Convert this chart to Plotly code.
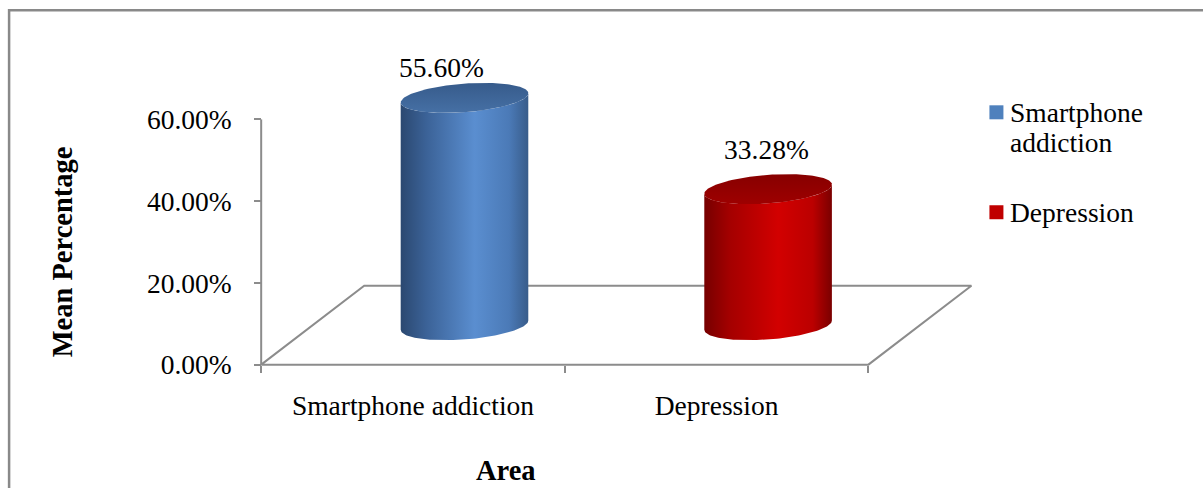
import textwrap
import numpy as np
import plotly.graph_objects as go

# ---------------- data ----------------
categories = ["Smartphone addiction", "Depression"]
mean_pct = [55.60, 33.28]
y_tick_vals = [0, 20, 40, 60]
x_title = "Area"
y_title = "Mean Percentage"

# ---------------- styles ----------------
FONT = "Liberation Serif, Times New Roman, serif"
FS = 27.5
FS_TITLE = 28.5
LINE_GRAY = "#8c8c8c"
BODY_SCALES = [
    [[0, "#2b4870"], [0.2, "#3b6297"], [0.58, "#5a8ed0"], [0.85, "#4b7ab7"], [1, "#385c8a"]],
    [[0, "#760000"], [0.2, "#a40000"], [0.58, "#d20000"], [0.85, "#bb0000"], [1, "#7a0000"]],
]
TOP_SCALES = [
    [[0, "#375b8b"], [1, "#4670a5"]],
    [[0, "#870000"], [1, "#9e0000"]],
]
SWATCH = ["#4f81bd", "#c00000"]
LABEL_XSHIFT = [-23, -2]
LABEL_YSHIFT = [30, 40]

# ---------------- geometry (pixel anchors of the projection) ----------------
W, H = 1203, 488
X0_PX, Y0_PX = 261, 364.5
PX_PER_X = 303.5
PX_PER_Y = 4.09
XR = [-0.05, 2.45]
YR = [-4, 76]
ML = X0_PX + XR[0] * PX_PER_X
MR = W - (X0_PX + XR[1] * PX_PER_X)
MT = Y0_PX - YR[1] * PX_PER_Y
MB = H - (Y0_PX - YR[0] * PX_PER_Y)
PW = W - ML - MR
PH = H - MT - MB

DEPTH_DX = 103 / PX_PER_X      # depth direction, x units
DEPTH_DY = 79 / PX_PER_Y       # depth direction, y units
RX = 0.20                      # cylinder radius along x
RZ = 0.19                      # cylinder radius along depth (fraction of floor depth)


def px_x(p):
    return (p - ML) / PW


def px_y(p):
    return (H - MB - p) / PH


def ellipse(cx, cy, th):
    return (cx + RX * np.cos(th) + DEPTH_DX * RZ * np.sin(th),
            cy + DEPTH_DY * RZ * np.sin(th))


fig = go.Figure()
n = len(categories)

# floor
fx = [0, n, n + DEPTH_DX, DEPTH_DX, 0]
fy = [0, 0, DEPTH_DY, DEPTH_DY, 0]
fig.add_trace(go.Scatter(x=fx, y=fy, mode="lines", line=dict(color=LINE_GRAY, width=2),
                         hoverinfo="skip", showlegend=False))
# value axis line
fig.add_trace(go.Scatter(x=[0, 0], y=[0, y_tick_vals[-1]], mode="lines",
                         line=dict(color=LINE_GRAY, width=2), hoverinfo="skip", showlegend=False))

th_star = np.arctan2(DEPTH_DX * RZ, RX)
front = np.linspace(th_star + np.pi, th_star + 2 * np.pi, 80)
full = np.linspace(0, 2 * np.pi, 160)

annotations = []
for i, (cat, v) in enumerate(zip(categories, mean_pct)):
    cx = i + 0.5 + 0.5 * DEPTH_DX
    cy0 = 0.5 * DEPTH_DY
    cy1 = v + 0.5 * DEPTH_DY
    bx, by = ellipse(cx, cy0, front)
    tx, ty = ellipse(cx, cy1, front[::-1])
    xs = np.concatenate([bx, tx, bx[:1]])
    ys = np.concatenate([by, ty, by[:1]])
    fig.add_trace(go.Scatter(
        x=xs, y=ys, mode="lines", fill="toself", line=dict(width=0, color="rgba(0,0,0,0)"),
        fillgradient=dict(type="horizontal", colorscale=BODY_SCALES[i],
                          start=float(xs.min()), stop=float(xs.max())),
        hoverinfo="skip", showlegend=False, name=cat))
    ex, ey = ellipse(cx, cy1, full)
    fig.add_trace(go.Scatter(
        x=ex, y=ey, mode="lines", fill="toself", line=dict(width=0, color="rgba(0,0,0,0)"),
        fillgradient=dict(type="vertical", colorscale=TOP_SCALES[i],
                          start=float(ey.max()), stop=float(ey.min())),
        hoverinfo="skip", showlegend=False))
    annotations.append(dict(x=cx, y=cy1, xref="x", yref="y", text=f"{v:.2f}%",
                            showarrow=False, xshift=LABEL_XSHIFT[i], yshift=LABEL_YSHIFT[i],
                            xanchor="center", yanchor="middle",
                            font=dict(family=FONT, size=FS, color="black")))

# axis titles
annotations.append(dict(x=px_x(62), y=px_y(252), xref="paper", yref="paper", text=y_title,
                        textangle=-90, showarrow=False, xanchor="center", yanchor="middle",
                        font=dict(family=FONT, size=FS_TITLE, color="black", weight="bold")))
annotations.append(dict(x=px_x(506), y=px_y(470), xref="paper", yref="paper", text=x_title,
                        showarrow=False, xanchor="center", yanchor="middle",
                        font=dict(family=FONT, size=FS_TITLE, color="black", weight="bold")))

# manual legend
shapes = []
LEG_SQ_X = 989
LEG_TXT_X = 1008
LEG_Y0 = 112
LINE_H = 30
ITEM_GAP = 40
y_cur = LEG_Y0
for i, cat in enumerate(categories):
    lines = textwrap.wrap(cat, width=12)
    shapes.append(dict(type="rect", xref="paper", yref="paper",
                       x0=px_x(LEG_SQ_X), x1=px_x(LEG_SQ_X + 14),
                       y0=px_y(y_cur - 7), y1=px_y(y_cur + 7),
                       fillcolor=SWATCH[i], line=dict(width=0)))
    for k, ln in enumerate(lines):
        annotations.append(dict(x=px_x(LEG_TXT_X), y=px_y(y_cur + k * LINE_H), xref="paper",
                                yref="paper", text=ln, showarrow=False, xanchor="left",
                                yanchor="middle",
                                font=dict(family=FONT, size=FS, color="black")))
    y_cur += len(lines) * LINE_H + ITEM_GAP

# outer chart border
shapes.append(dict(type="rect", xref="paper", yref="paper",
                   x0=px_x(9), x1=px_x(W + 40), y0=px_y(H + 40), y1=px_y(10),
                   line=dict(color="#898989", width=2.5), fillcolor="rgba(0,0,0,0)"))

fig.update_layout(
    width=W, height=H,
    margin=dict(l=ML, r=MR, t=MT, b=MB, pad=0),
    paper_bgcolor="white", plot_bgcolor="white",
    showlegend=False,
    annotations=annotations, shapes=shapes,
    font=dict(family=FONT, size=FS, color="black"),
    xaxis=dict(range=XR, anchor="free", position=(0 - YR[0]) / (YR[1] - YR[0]),
               tickmode="array", tickvals=[i + 0.5 for i in range(n)], ticktext=categories,
               ticks="", showline=False, showgrid=False, zeroline=False,
               ticklabelstandoff=22,
               minor=dict(tickmode="array", tickvals=list(range(n + 1)), ticks="outside",
                          ticklen=7, tickwidth=2, tickcolor=LINE_GRAY, showgrid=False),
               tickfont=dict(family=FONT, size=FS, color="black"), fixedrange=True),
    yaxis=dict(range=YR, anchor="free", position=(0 - XR[0]) / (XR[1] - XR[0]),
               tickmode="array", tickvals=y_tick_vals,
               ticktext=[f"{t:.2f}%" for t in y_tick_vals],
               ticks="outside", ticklen=7, tickwidth=2, tickcolor=LINE_GRAY,
               ticklabelstandoff=17,
               showline=False, showgrid=False, zeroline=False,
               tickfont=dict(family=FONT, size=FS, color="black"), fixedrange=True),
)

fig.write_html("out.html")
